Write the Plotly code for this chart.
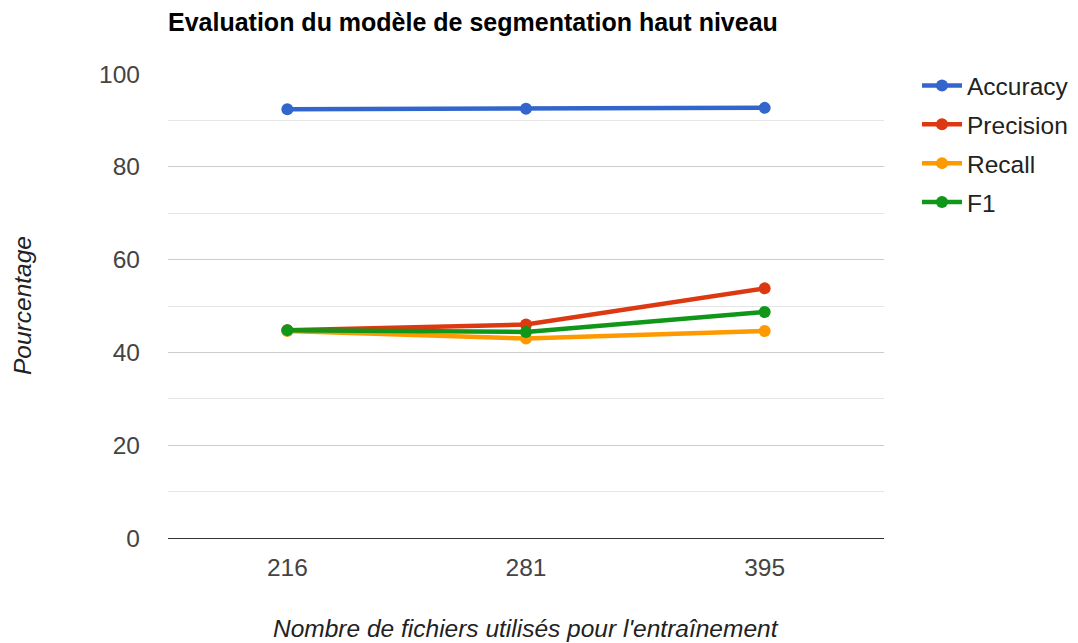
import plotly.graph_objects as go

categories = ["216", "281", "395"]
accuracy = [92.4, 92.5, 92.7]
precision = [44.8, 46.0, 53.8]
recall = [44.6, 43.0, 44.6]
f1 = [44.8, 44.4, 48.7]

series = [("Accuracy", accuracy, "#3366cc"),
          ("Precision", precision, "#dc3912"),
          ("Recall", recall, "#ff9900"),
          ("F1", f1, "#109618")]

W, H = 1078, 643
OFF = 8  # page body margin
L, T = 168 - OFF, 74 - OFF
R, B = W + OFF - 884, H + OFF - 538
PW, PH = W - L - R, H - T - B
FS = 24.5

fig = go.Figure()
for name, vals, col in series:
    fig.add_trace(go.Scatter(x=categories, y=vals, name=name, legendgroup=name,
                             mode="lines+markers",
                             line=dict(color=col, width=4.5), marker=dict(color=col, size=12)))

fig.update_layout(
    width=W, height=H,
    paper_bgcolor="white", plot_bgcolor="white",
    margin=dict(l=L, r=R, t=T, b=B, autoexpand=False),
    font=dict(family="Liberation Sans, Arial", size=FS, color="#444"),
    title=dict(text="<b>Evaluation du modèle de segmentation haut niveau</b>",
               x=L / W, xanchor="left", y=1 - (22 - OFF) / H, yanchor="middle",
               font=dict(size=25, color="#000")),
    legend=dict(x=1 + (917 - 884) / PW, xanchor="left", y=1 + (74 - 63) / PH, yanchor="top",
                font=dict(size=FS, color="#222"), itemwidth=40, tracegroupgap=4),
    showlegend=True,
    annotations=[
        dict(text="<i>Nombre de fichiers utilisés pour l'entraînement</i>", xref="paper", yref="paper",
             x=0.5, y=-(628 - 538) / PH,
             xanchor="center", yanchor="middle", showarrow=False, font=dict(size=FS, color="#222")),
        dict(text="<i>Pourcentage</i>", xref="paper", yref="paper", textangle=-90,
             x=-(168 - 22) / PW, y=0.5, xanchor="center", yanchor="middle",
             showarrow=False, font=dict(size=FS, color="#222")),
    ],
)
fig.update_xaxes(type="category", range=[-0.5, len(categories) - 0.5],
                 showgrid=False, showline=True, linecolor="#333", linewidth=1,
                 ticks="", ticklabelstandoff=8, automargin=False,
                 tickfont=dict(size=FS, color="#444"))
fig.update_yaxes(range=[0, 100], tickvals=[0, 20, 40, 60, 80, 100], showgrid=True,
                 gridcolor="#cccccc", gridwidth=1, zeroline=False, showline=False,
                 ticks="", ticklabelstandoff=27, automargin=False,
                 tickfont=dict(size=FS, color="#444"),
                 minor=dict(dtick=10, showgrid=True, gridcolor="#e6e6e6", gridwidth=1))

fig.write_html("out.html")
